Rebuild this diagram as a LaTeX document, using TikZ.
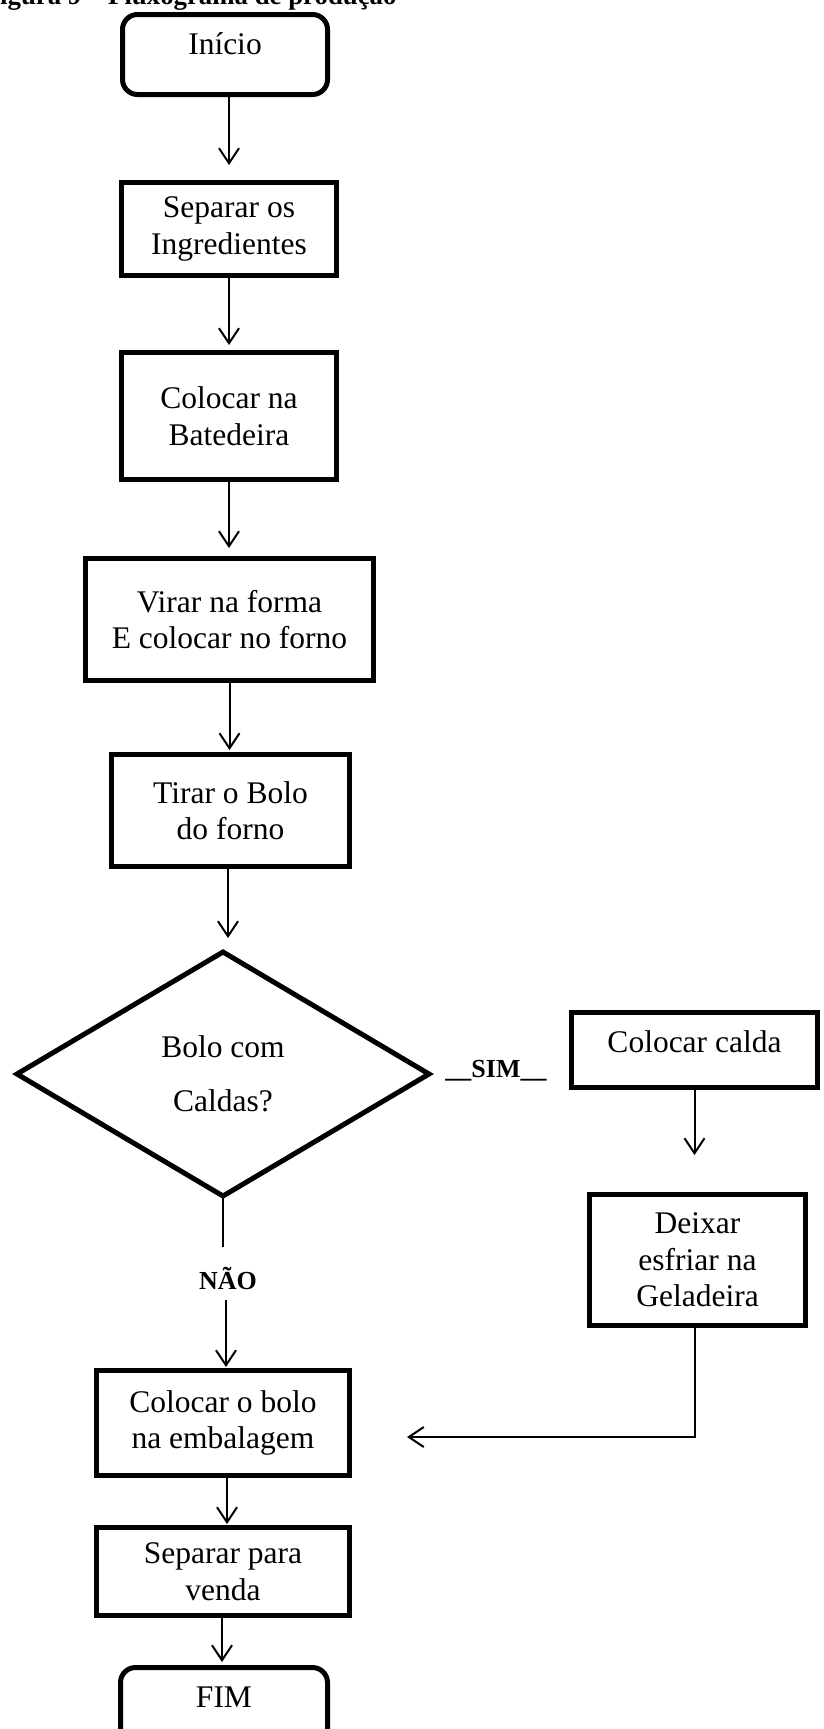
\documentclass[tikz,border=0pt]{standalone}
\usepackage{fontspec}
\setmainfont{Liberation Serif}
\usetikzlibrary{arrows.meta,shapes.geometric}
\newcommand\fxbody{\fontsize{31.5pt}{36.5pt}\selectfont}
\newcommand\fxlbl{\fontsize{26pt}{30pt}\selectfont\bfseries}
\newcommand\fxtitle{\fontsize{26.8pt}{30pt}\selectfont\bfseries}
\begin{document}
\begin{tikzpicture}[x=1pt,y=-1pt,
  stepbox/.style={draw, line width=5pt, rectangle, align=center, inner sep=0pt, font=\fxbody},
  termbox/.style={stepbox, rounded corners=15pt},
  decision/.style={draw, line width=5pt, diamond, inner sep=0pt, outer sep=0pt, align=center, font=\fxbody},
  lbl/.style={font=\fxlbl, inner sep=0pt},
  conn/.style={line width=2pt},
  arr/.style={conn, -{Straight Barb[length=15pt,width=20pt]}},
]
\useasboundingbox (0,0) rectangle (824,1729);
\clip (0,0) rectangle (824,1729);

\node[font=\fxtitle, inner sep=0pt, anchor=base west] (titulo) at (0,5) {igura 9 – Fluxograma de produção};

\node[termbox, minimum width=205pt, minimum height=80pt, text height=17pt, text depth=17pt] (inicio) at (225,54.5) {Início};
\node[stepbox, minimum width=215pt, minimum height=93pt] (sep) at (229,229) {Separar os\\Ingredientes};
\node[stepbox, minimum width=215pt, minimum height=127pt] (bat) at (229,416) {Colocar na\\Batedeira};
\node[stepbox, minimum width=288pt, minimum height=122pt] (vir) at (229.5,619.5) {Virar na forma\\E colocar no forno};
\node[stepbox, minimum width=238pt, minimum height=112pt] (tir) at (230.5,810.5) {Tirar o Bolo\\do forno};
\node[decision, minimum width=412pt, minimum height=244pt] (dec) at (223,1074) {Bolo com\\[17pt]Caldas?};
\node[lbl, anchor=base] (sim) at (496,1077) {\_\_SIM\_\_};
\node[stepbox, minimum width=246pt, minimum height=75pt, text height=22pt, text depth=18pt] (calda) at (694.5,1050) {Colocar calda};
\node[stepbox, minimum width=216pt, minimum height=131pt] (deix) at (697.5,1260) {Deixar\\esfriar na\\Geladeira};
\node[lbl, text height=18pt, text depth=0pt] (nao) at (228,1280) {NÃO};
\node[stepbox, minimum width=253pt, minimum height=105pt] (emb) at (223,1423) {Colocar o bolo\\na embalagem};
\node[stepbox, minimum width=253pt, minimum height=88pt] (ven) at (223,1571.5) {Separar para\\venda};
\node[termbox, minimum width=207pt, minimum height=80pt, text height=17pt, text depth=17pt] (fim) at (224,1707.5) {FIM};
\coordinate (ret) at (407,1437);

\draw[arr, shorten >=15pt] (inicio.south -| sep.north) -- (sep.north);
\draw[arr, shorten >=5pt] (sep.south) -- (bat.north);
\draw[arr, shorten >=8pt] (bat.south) -- (bat.south |- vir.north);
\draw[arr, shorten >=2pt] (vir.south) -- (vir.south |- tir.north);
\draw[arr, shorten >=14pt] ([xshift=-2.5pt]tir.south) -- ([xshift=-2.5pt]tir.south |- dec.north);
\draw[conn, shorten >=24pt] (dec.south) -- (dec.south |- nao.north);
\draw[arr, shorten <=11pt, shorten >=1pt] ([xshift=-2pt]nao.south) -- ([xshift=-2pt]nao.south |- emb.north);
\draw[arr, shorten >=37pt] (calda.south) -- (calda.south |- deix.north);
\draw[arr] (deix.south -| calda.south) |- (ret);
\draw[arr, shorten >=1pt] ([xshift=4pt]emb.south) -- ([xshift=4pt]emb.south |- ven.north);
\draw[arr, shorten >=3pt] ([xshift=-1pt]ven.south) -- ([xshift=-1pt]ven.south |- fim.north);
\end{tikzpicture}
\end{document}
